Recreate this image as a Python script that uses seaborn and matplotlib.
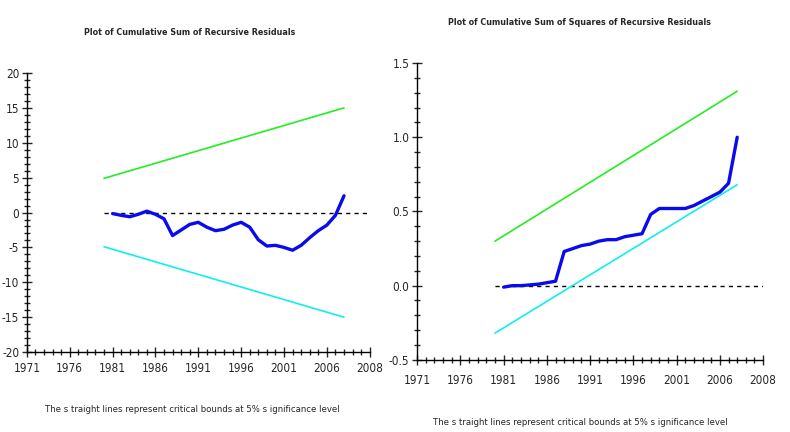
import matplotlib
matplotlib.use('Agg')
import matplotlib.pyplot as plt
import seaborn as sns
import pandas as pd

# 数据
years = list(range(1981, 2009))
cusum = [-0.15, -0.4, -0.6, -0.25, 0.2, -0.25, -0.9, -3.3, -2.5, -1.7, -1.4, -2.1, -2.6, -2.4,
         -1.8, -1.4, -2.1, -3.9, -4.8, -4.7, -5.0, -5.4, -4.7, -3.6, -2.6, -1.8, -0.4, 2.4]
cusumsq = [-0.01, 0.0, 0.0, 0.005, 0.01, 0.02, 0.03, 0.23, 0.25, 0.27, 0.28, 0.30, 0.31, 0.31,
           0.33, 0.34, 0.35, 0.48, 0.52, 0.52, 0.52, 0.52, 0.54, 0.57, 0.60, 0.63, 0.69, 1.00]
bound_years = [1980, 2008]
cusum_upper = [4.9, 15.0]
cusum_lower = [-4.9, -15.0]
sq_upper = [0.30, 1.31]
sq_lower = [-0.32, 0.68]
zero_years = [1980, 2011]
zero_vals = [0, 0]
xtick_pos = [1971, 1976, 1981, 1986, 1991, 1996, 2001, 2006, 2011]
xtick_labels = ['1971', '1976', '1981', '1986', '1991', '1996', '2001', '2006', '2008']

titles = ['Plot of Cumulative Sum of Recursive Residuals',
          'Plot of Cumulative Sum of Squares of Recursive Residuals']
note = 'The s traight lines represent critical bounds at 5% s ignificance level'

sns.set_style('white')
plt.rcParams['font.family'] = ['DejaVu Sans']
plt.rcParams['font.stretch'] = 'condensed'

fig = plt.figure(figsize=(7.9, 4.32), dpi=100)
ax1 = fig.add_axes([0.034, 0.185, 0.434, 0.646])
ax2 = fig.add_axes([0.528, 0.167, 0.438, 0.687])

panels = [
    (ax1, cusum, cusum_upper, cusum_lower, (-20, 20), [-20, -15, -10, -5, 0, 5, 10, 15, 20],
     ['-20', '-15', '-10', '-5', '0', '5', '10', '15', '20'], 1.0, 4),
    (ax2, cusumsq, sq_upper, sq_lower, (-0.5, 1.5), [-0.5, 0.0, 0.5, 1.0, 1.5],
     ['-0.5', '0.0', '0.5', '1.0', '1.5'], 0.1, 7),
]

for ax, series, up, lo, ylim, yt, ytl, ymin, xpad in panels:
    sns.lineplot(x=zero_years, y=zero_vals, ax=ax, color='black', linestyle=(0, (3, 3)), linewidth=1)
    sns.lineplot(x=bound_years, y=up, ax=ax, color='#22ee22', linewidth=1.2)
    sns.lineplot(x=bound_years, y=lo, ax=ax, color='#11eeee', linewidth=1.2)
    sns.lineplot(x=years, y=series, ax=ax, color='#0a0aee', linewidth=2.4)
    ax.set_xlim(1971, 2011)
    ax.set_ylim(*ylim)
    ax.set_xticks(xtick_pos)
    ax.set_xticklabels(xtick_labels)
    ax.set_xticks(range(1971, 2012), minor=True)
    ax.set_yticks(yt)
    ax.set_yticklabels(ytl)
    ax.yaxis.set_minor_locator(matplotlib.ticker.MultipleLocator(ymin))
    ax.tick_params(which='major', direction='inout', length=7, width=1, labelsize=8.5, pad=2,
                   bottom=True, left=True)
    ax.tick_params(axis='x', which='major', pad=xpad)
    ax.tick_params(which='minor', direction='inout', length=4, width=1, bottom=True, left=True)
    for s in ['top', 'right']:
        ax.spines[s].set_visible(False)
    for s in ['left', 'bottom']:
        ax.spines[s].set_color('black')
        ax.spines[s].set_linewidth(1)
    ax.set_xlabel('')
    ax.set_ylabel('')

fig.text(0.24, 0.924, titles[0], ha='center', va='center', fontsize=6.4, fontweight='bold')
fig.text(0.733, 0.949, titles[1], ha='center', va='center', fontsize=6.4, fontweight='bold')
fig.text(0.243, 0.051, note, ha='center', va='center', fontsize=6.8)
fig.text(0.734, 0.023, note, ha='center', va='center', fontsize=6.8)

fig.savefig('out.png', dpi=100)
